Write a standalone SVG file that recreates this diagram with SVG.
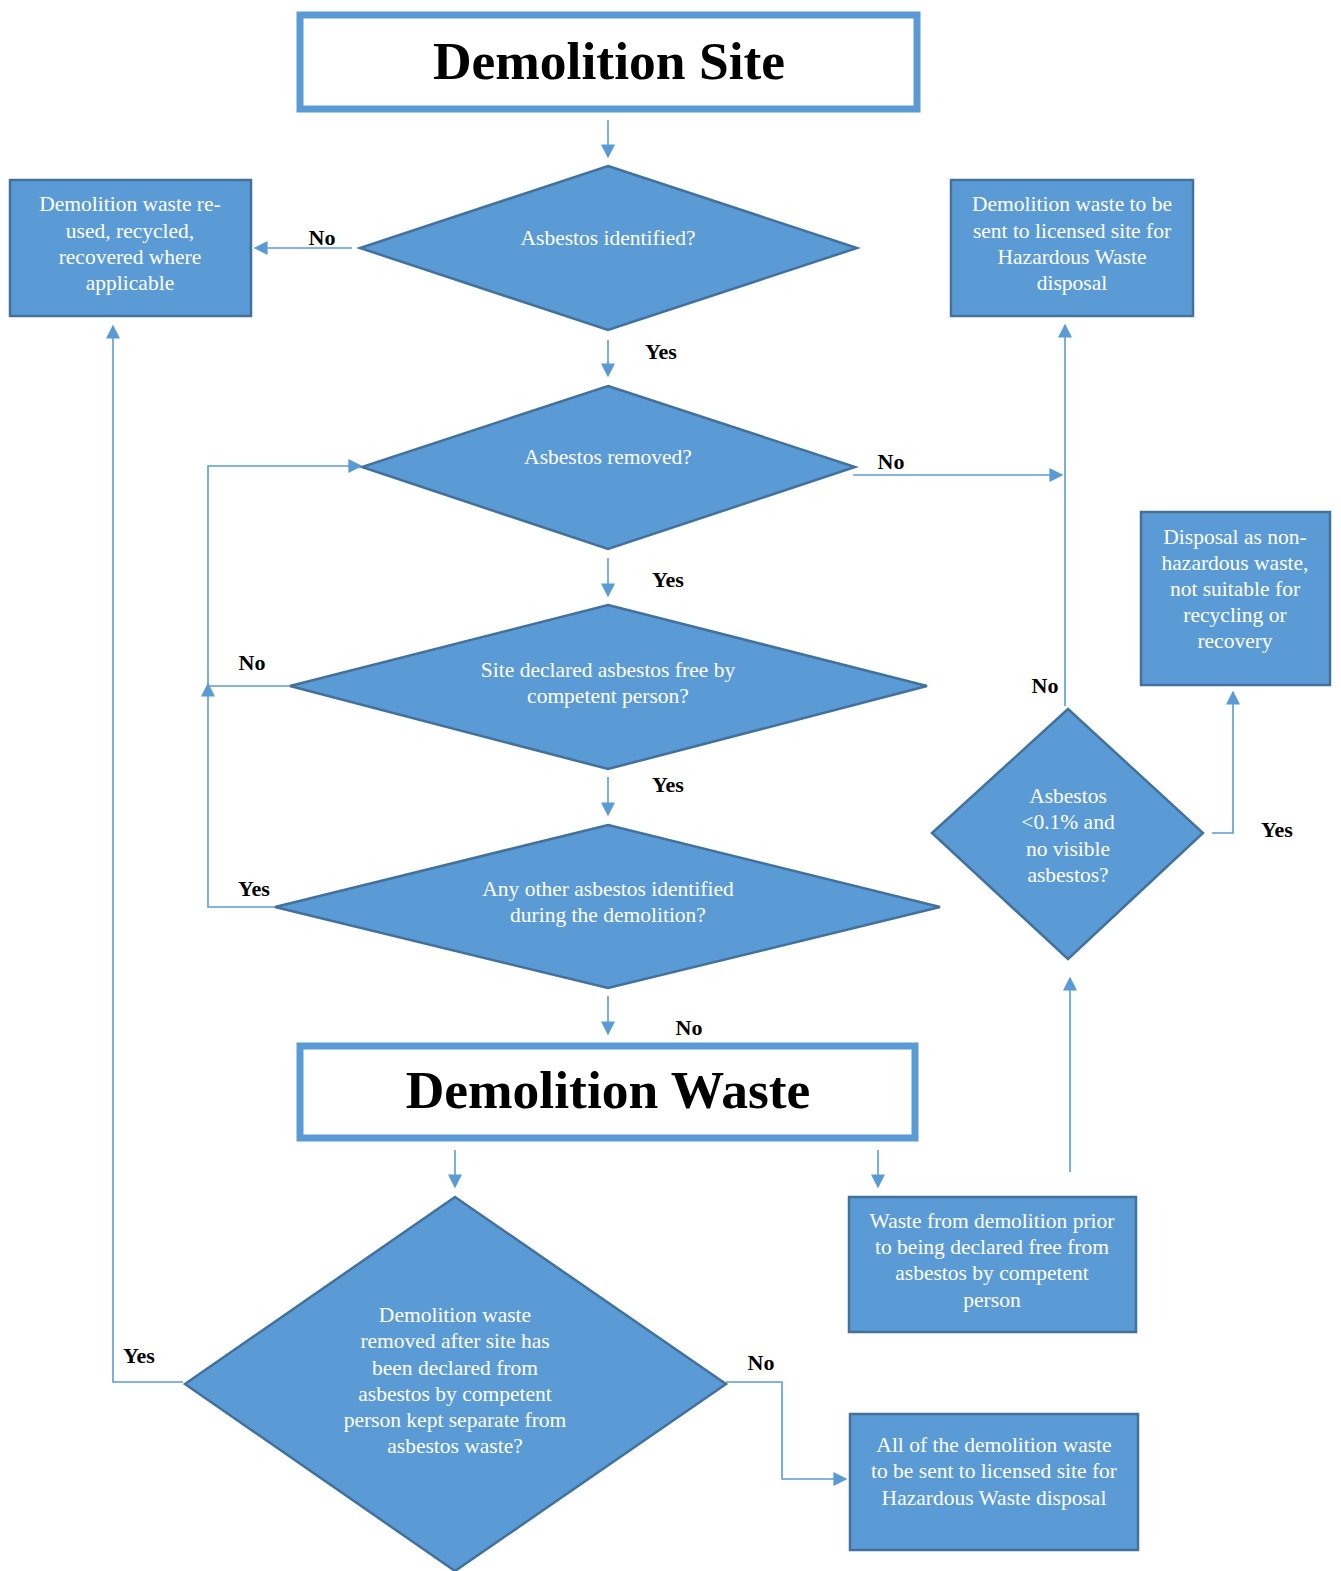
<svg xmlns="http://www.w3.org/2000/svg" width="1341" height="1571" viewBox="0 0 1341 1571">
<defs>
<marker id="ah" viewBox="0 0 10 10" refX="9" refY="5" markerWidth="14" markerHeight="14" markerUnits="userSpaceOnUse" orient="auto">
<path d="M0,0 L10,5 L0,10 Z" fill="#5B9BD5"/>
</marker>
<style>
.shape{fill:#5B9BD5;stroke:#41719C;stroke-width:2.5}
.title{fill:#fff;stroke:#5B9BD5;stroke-width:7}
.t{font-family:"Liberation Serif",serif;font-size:21.5px;fill:#fff;text-anchor:middle}
.h{font-family:"Liberation Serif",serif;font-size:53.5px;font-weight:bold;fill:#000;text-anchor:middle}
.lbl{font-family:"Liberation Serif",serif;font-size:22px;font-weight:bold;fill:#000;text-anchor:middle}
.c{fill:none;stroke:#5B9BD5;stroke-width:1.6}
.ca{fill:none;stroke:#5B9BD5;stroke-width:1.6;marker-end:url(#ah)}
</style>
</defs>
<rect width="1341" height="1571" fill="#fff"/>

<g id="site">
<rect class="title" x="300" y="15" width="617" height="94"/>
<text class="h" x="609" y="79">Demolition Site</text>
</g>

<g id="d1">
<polygon class="shape" points="608,166 857,248 608,330 360,248"/>
<text class="t" x="608" y="245">Asbestos identified?</text>
</g>

<g id="reuse">
<rect class="shape" x="10" y="180" width="241" height="136"/>
<text class="t" x="130" y="211">Demolition waste re-</text>
<text class="t" x="130" y="238">used, recycled,</text>
<text class="t" x="130" y="264">recovered where</text>
<text class="t" x="130" y="290">applicable</text>
</g>

<g id="hazard1">
<rect class="shape" x="951" y="180" width="242" height="136"/>
<text class="t" x="1072" y="211">Demolition waste to be</text>
<text class="t" x="1072" y="238">sent to licensed site for</text>
<text class="t" x="1072" y="264">Hazardous Waste</text>
<text class="t" x="1072" y="290">disposal</text>
</g>

<g id="d2">
<polygon class="shape" points="608,386 855,467 608,549 362,467"/>
<text class="t" x="608" y="464">Asbestos removed?</text>
</g>

<g id="nonhaz">
<rect class="shape" x="1141" y="512" width="189" height="173"/>
<text class="t" x="1235" y="544">Disposal as non-</text>
<text class="t" x="1235" y="570">hazardous waste,</text>
<text class="t" x="1235" y="596">not suitable for</text>
<text class="t" x="1235" y="622">recycling or</text>
<text class="t" x="1235" y="648">recovery</text>
</g>

<g id="d3">
<polygon class="shape" points="608,605 927,686 608,769 290,686"/>
<text class="t" x="608" y="677">Site declared asbestos free by</text>
<text class="t" x="608" y="703">competent person?</text>
</g>

<g id="d5">
<polygon class="shape" points="1068,709 1203,833 1068,959 932,833"/>
<text class="t" x="1068" y="803">Asbestos</text>
<text class="t" x="1068" y="829">&lt;0.1% and</text>
<text class="t" x="1068" y="856">no visible</text>
<text class="t" x="1068" y="882">asbestos?</text>
</g>

<g id="d4">
<polygon class="shape" points="608,825 940,907 608,988 275,907"/>
<text class="t" x="608" y="896">Any other asbestos identified</text>
<text class="t" x="608" y="922">during the demolition?</text>
</g>

<g id="waste">
<rect class="title" x="300" y="1046" width="615" height="92"/>
<text class="h" x="608" y="1108">Demolition Waste</text>
</g>

<g id="prior">
<rect class="shape" x="849" y="1197" width="287" height="135"/>
<text class="t" x="992" y="1228">Waste from demolition prior</text>
<text class="t" x="992" y="1254">to being declared free from</text>
<text class="t" x="992" y="1280">asbestos by competent</text>
<text class="t" x="992" y="1307">person</text>
</g>

<g id="d6">
<polygon class="shape" points="455,1197 726,1384 455,1571 185,1384"/>
<text class="t" x="455" y="1322">Demolition waste</text>
<text class="t" x="455" y="1348">removed after site has</text>
<text class="t" x="455" y="1375">been declared from</text>
<text class="t" x="455" y="1401">asbestos by competent</text>
<text class="t" x="455" y="1427">person kept separate from</text>
<text class="t" x="455" y="1453">asbestos waste?</text>
</g>

<g id="hazard2">
<rect class="shape" x="850" y="1414" width="288" height="136"/>
<text class="t" x="994" y="1452">All of the demolition waste</text>
<text class="t" x="994" y="1478">to be sent to licensed site for</text>
<text class="t" x="994" y="1505">Hazardous Waste disposal</text>
</g>

<g id="connectors">
<line class="ca" x1="608" y1="120" x2="608" y2="157"/>
<line class="ca" x1="352" y1="248" x2="255" y2="248"/>
<line class="ca" x1="608" y1="340" x2="608" y2="376"/>
<line class="ca" x1="853" y1="475" x2="1062" y2="475"/>
<line class="ca" x1="1065" y1="706" x2="1065" y2="325"/>
<line class="ca" x1="608" y1="558" x2="608" y2="596"/>
<polyline class="ca" points="290,686 208,686 208,466 361,466"/>
<line class="ca" x1="608" y1="777" x2="608" y2="815"/>
<polyline class="ca" points="275,907 208,907 208,684"/>
<line class="ca" x1="608" y1="996" x2="608" y2="1034"/>
<line class="ca" x1="455" y1="1150" x2="455" y2="1187"/>
<line class="ca" x1="878" y1="1150" x2="878" y2="1187"/>
<line class="ca" x1="1070" y1="1172" x2="1070" y2="978"/>
<polyline class="ca" points="1212,833 1233,833 1233,692"/>
<polyline class="ca" points="183,1382 113,1382 113,326"/>
<polyline class="ca" points="726,1382 782,1382 782,1479 846,1479"/>
</g>

<g id="labels">
<text class="lbl" x="322" y="245">No</text>
<text class="lbl" x="661" y="359">Yes</text>
<text class="lbl" x="891" y="469">No</text>
<text class="lbl" x="668" y="587">Yes</text>
<text class="lbl" x="252" y="670">No</text>
<text class="lbl" x="1045" y="693">No</text>
<text class="lbl" x="668" y="792">Yes</text>
<text class="lbl" x="1277" y="837">Yes</text>
<text class="lbl" x="254" y="896">Yes</text>
<text class="lbl" x="689" y="1035">No</text>
<text class="lbl" x="139" y="1363">Yes</text>
<text class="lbl" x="761" y="1370">No</text>
</g>
</svg>
